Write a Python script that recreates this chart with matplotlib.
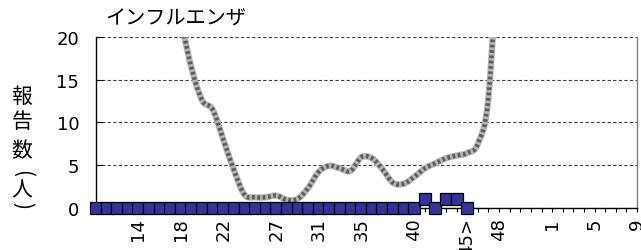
import matplotlib
matplotlib.use("Agg")
import matplotlib.pyplot as plt
from matplotlib.path import Path
from matplotlib.patches import PathPatch
import numpy as np

# ---- data ----
weeks = list(range(10, 53)) + list(range(1, 10))          # 52 weekly categories
shown_labels = {14: "14", 18: "18", 22: "22", 27: "27", 31: "31", 35: "35",
                40: "40", 45: "45>", 48: "48", 1: "1", 5: "5", 9: "9"}
# previous-season curve (gray, smoothed), weeks 10..48
prev_values = [55, 52, 48, 44, 40, 36, 32, 27.5, 22.0, 16.4, 12.6, 11.5, 8.0,
               4.4, 1.5, 1.2, 1.2, 1.4, 0.9, 1.0, 2.3, 4.2, 4.9, 4.6, 4.3, 5.9,
               5.8, 4.5, 2.9, 2.8, 3.6, 4.6, 5.2, 5.8, 6.1, 6.4, 7.5, 13.0, 33.0]
# current season reports, weeks 10..45
cur_values = [0] * 31 + [1, 0, 1, 1, 0]

title = "インフルエンザ"
ylabel_chars = ["報", "告", "数", "(", "人", ")"]

W, H = 641, 251
fig = plt.figure(figsize=(W / 100, H / 100), dpi=100)
x0, x1, ytop, ybot = 96, 637, 38.3, 208.5
ax = fig.add_axes([x0 / W, 1 - ybot / H, (x1 - x0) / W, (ybot - ytop) / H])

n = len(weeks)
ax.set_xlim(0, n - 1)
ax.set_ylim(0, 20)

# gridlines
ax.set_yticks([0, 5, 10, 15, 20])
ax.yaxis.grid(True, linestyle=(0, (3, 2)), color="#404040", linewidth=0.8)
ax.set_axisbelow(True)

# smoothed gray line (Catmull-Rom style Bezier through data points)
px = np.arange(len(prev_values), dtype=float)
py = np.array(prev_values, dtype=float)
verts = [(px[0], py[0])]
codes = [Path.MOVETO]
for i in range(len(px) - 1):
    p0 = np.array([px[max(i - 1, 0)], py[max(i - 1, 0)]])
    p1 = np.array([px[i], py[i]])
    p2 = np.array([px[i + 1], py[i + 1]])
    p3 = np.array([px[min(i + 2, len(px) - 1)], py[min(i + 2, len(px) - 1)]])
    c1 = p1 + (p2 - p0) / 6.0
    c2 = p2 - (p3 - p1) / 6.0
    verts += [tuple(c1), tuple(c2), tuple(p2)]
    codes += [Path.CURVE4] * 3
path = Path(verts, codes)
ax.add_patch(PathPatch(path, facecolor="none", edgecolor="#b4b4b4",
                       linewidth=4.6, capstyle="round", joinstyle="round",
                       transform=ax.transData, zorder=3))
ax.add_patch(PathPatch(path, facecolor="none", edgecolor="#5a5a5a",
                       linewidth=3.2, linestyle=(0, (0.6, 0.6)),
                       transform=ax.transData, zorder=3.1))

# current season markers
cx = np.arange(len(cur_values))
ax.plot(cx, cur_values, linestyle="none", marker="s", markersize=8.0,
        markerfacecolor="#333399", markeredgecolor="black",
        markeredgewidth=0.9, clip_on=False, zorder=6)

# spines
for s in ["left", "bottom"]:
    ax.spines[s].set_color("black")
    ax.spines[s].set_linewidth(1.0)
ax.spines["right"].set_color("#808080")
ax.spines["right"].set_linewidth(1.0)
ax.spines["top"].set_visible(False)

# ticks
ax.set_xticks(range(n))
ax.set_xticklabels([shown_labels.get(w, "") for w in weeks], rotation=90,
                   fontsize=13, family="DejaVu Sans")
ax.tick_params(axis="x", direction="out", length=3, width=0.8, pad=4)
ax.set_yticklabels(["0", "5", "10", "15", "20"], fontsize=13,
                   family="DejaVu Sans")
ax.tick_params(axis="y", direction="in", length=5, width=0.8, pad=12)

# title
fig.text(105 / W, 1 - 19 / H, title, fontsize=14.5, family="Noto Sans CJK JP",
         ha="left", va="center")

# vertical y label
ycent = [97, 122, 151, 173, 191, 205]
rots = [0, 0, 0, -90, 0, -90]
for ch, yc, r in zip(ylabel_chars, ycent, rots):
    fig.text(22 / W, 1 - yc / H, ch, fontsize=15, family="Noto Sans CJK JP",
             ha="center", va="center", rotation=r)

fig.savefig("out.png", dpi=100)
